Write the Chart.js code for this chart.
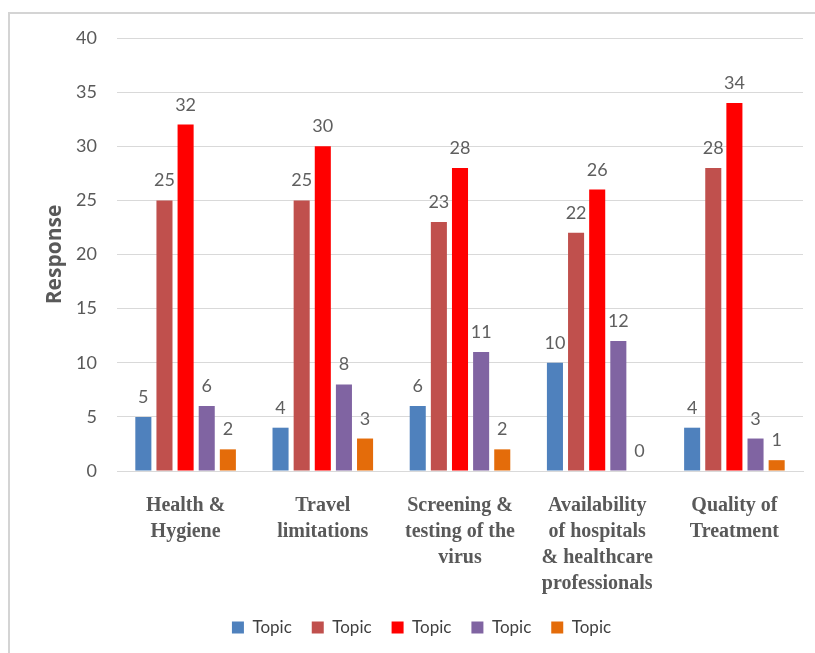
<!DOCTYPE html>
<html>
<head>
<meta charset="utf-8">
<script src="https://cdn.jsdelivr.net/npm/chart.js@4.4.0/dist/chart.umd.min.js"></script>
<style>
  html, body { margin: 0; padding: 0; background: #fff; }
  #wrap { position: relative; width: 815px; height: 653px; }
</style>
</head>
<body>
<div id="wrap"><canvas id="topicChart" width="815" height="653"></canvas></div>
<script>
// chart data
const categories = [
    ['Health &', 'Hygiene'],
    ['Travel', 'limitations'],
    ['Screening &', 'testing of the', 'virus'],
    ['Availability', 'of hospitals', '& healthcare', 'professionals'],
    ['Quality of', 'Treatment']
];
const seriesNames = ['Topic', 'Topic', 'Topic', 'Topic', 'Topic'];
const topic1 = [5, 4, 6, 10, 4];
const topic2 = [25, 25, 23, 22, 28];
const topic3 = [32, 30, 28, 26, 34];
const topic4 = [6, 8, 11, 12, 3];
const topic5 = [2, 3, 2, 0, 1];
const seriesColors = ['#4F81BD', '#C0504D', '#FF0000', '#8064A2', '#E46C0A'];

const greyText = '#595959';

// frame lines round the chart (left and top edge)
const framePlugin = {
    id: 'frame',
    beforeDraw(chart) {
        const c = chart.ctx;
        c.save();
        c.fillStyle = '#fff';
        c.fillRect(0, 0, chart.width, chart.height);
        c.strokeStyle = '#d4d4d4';
        c.lineWidth = 2;
        c.beginPath();
        c.moveTo(9, chart.height);
        c.lineTo(9, 13);
        c.lineTo(chart.width, 13);
        c.stroke();
        c.restore();
    }
};

// value labels above bars
const valueLabels = {
    id: 'valueLabels',
    afterDatasetsDraw(chart) {
        const c = chart.ctx;
        c.save();
        c.font = '18px Lato';
        c.fillStyle = '#5f5f5f';
        c.textAlign = 'center';
        c.textBaseline = 'alphabetic';
        chart.data.datasets.forEach((ds, i) => {
            chart.getDatasetMeta(i).data.forEach((bar, j) => {
                c.fillText(String(ds.data[j]), bar.x, bar.y - 14);
            });
        });
        c.restore();
    }
};

const allSeries = [topic1, topic2, topic3, topic4, topic5];

const ctx = document.getElementById('topicChart').getContext('2d');
const topicChart = new Chart(ctx, {
    type: 'bar',
    data: {
        labels: categories,
        datasets: allSeries.map((vals, i) => ({
            label: seriesNames[i],
            data: vals,
            backgroundColor: seriesColors[i],
            borderWidth: 0,
            barPercentage: 0.76,
            categoryPercentage: 0.77
        }))
    },
    options: {
        responsive: false,
        animation: false,
        layout: {
            padding: { left: 40, top: 38, right: 12, bottom: 7 }
        },
        plugins: {
            legend: {
                position: 'bottom',
                labels: {
                    boxWidth: 12,
                    boxHeight: 12,
                    padding: 20,
                    color: '#404040',
                    font: { size: 17, family: 'Lato' }
                }
            },
            tooltip: { enabled: false }
        },
        scales: {
            x: {
                grid: { display: false },
                border: { color: '#d9d9d9', width: 1 },
                ticks: {
                    color: greyText,
                    padding: 14,
                    maxRotation: 0,
                    autoSkip: false,
                    font: { size: 20, family: 'Liberation Serif', weight: 'bold', lineHeight: 1.3 }
                },
                afterFit(scale) { scale.height = 128; }
            },
            y: {
                min: 0,
                max: 40,
                ticks: {
                    stepSize: 5,
                    color: greyText,
                    padding: 20,
                    font: { size: 18, family: 'Lato' }
                },
                grid: { color: '#d9d9d9', drawTicks: false },
                border: { display: false },
                title: {
                    display: true,
                    text: 'Response',
                    color: greyText,
                    padding: 2,
                    font: { size: 21, family: 'Open Sans', weight: 'bold' }
                },
                afterFit(scale) { scale.width = 77; }
            }
        }
    },
    plugins: [framePlugin, valueLabels]
});
</script>
</body>
</html>
